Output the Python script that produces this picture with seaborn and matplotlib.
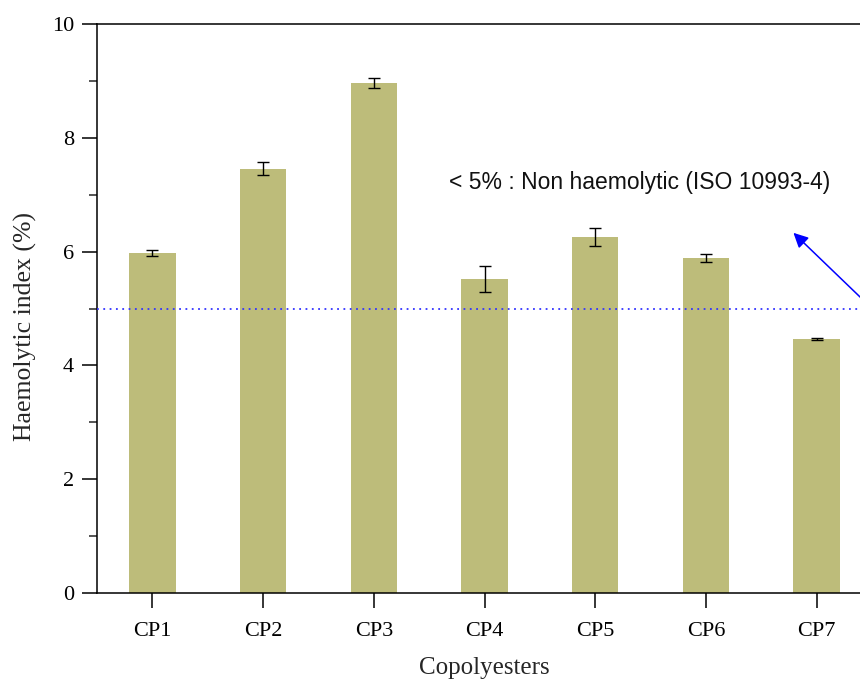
import matplotlib
matplotlib.use("Agg")
import matplotlib.pyplot as plt
from matplotlib.ticker import MultipleLocator
import seaborn as sns
import pandas as pd

# Haemolysis results for the copolyester series
samples = ["CP1", "CP2", "CP3", "CP4", "CP5", "CP6", "CP7"]
haemolytic_index = [5.97, 7.46, 8.96, 5.52, 6.26, 5.89, 4.47]
std_dev = [0.05, 0.12, 0.09, 0.23, 0.16, 0.07, 0.02]
threshold = 5.0
note = "< 5% : Non haemolytic (ISO 10993-4)"

df = pd.DataFrame({"sample": samples, "hi": haemolytic_index, "sd": std_dev})

sns.set_theme(style="ticks")
plt.rcParams["font.family"] = ["Liberation Serif", "DejaVu Serif"]

fig = plt.figure(figsize=(8.6, 6.84), dpi=100)
ax = fig.add_axes([0.1128, 0.1330, 0.9012, 0.8319])

sns.barplot(data=df, x="sample", y="hi", color="#BDBC7A", saturation=1,
            width=0.42, errorbar=None, ax=ax, linewidth=0)
ax.errorbar(range(len(samples)), df["hi"], yerr=df["sd"], fmt="none",
            ecolor="black", elinewidth=1.0, capsize=4.3, capthick=1.0, zorder=5)

ax.axhline(threshold, color="#3333FF", linestyle=(0, (1, 2.5)), linewidth=1.3, zorder=4)

ax.annotate("", xy=(5.79, 6.33), xytext=(6.5, 5.0),
            arrowprops=dict(arrowstyle="-|>", color="blue", lw=1.1,
                            mutation_scale=22, shrinkA=0, shrinkB=0),
            annotation_clip=False, zorder=6)
ax.text(2.68, 7.22, note, fontsize=16.5, va="center", ha="left",
        family=["Liberation Sans", "DejaVu Sans"], color="#111111")

ax.set_xlim(-0.5, 6.5)
ax.set_ylim(0, 10)
ax.yaxis.set_major_locator(MultipleLocator(2))
ax.yaxis.set_minor_locator(MultipleLocator(1))

for side in ["left", "bottom", "top", "right"]:
    ax.spines[side].set_visible(True)
    ax.spines[side].set_linewidth(1.1)
    ax.spines[side].set_color("black")

ax.tick_params(axis="both", which="major", direction="out", length=10.5,
               width=1.1, labelsize=16, colors="black")
ax.tick_params(axis="y", which="major", pad=6)
ax.tick_params(axis="x", which="major", pad=10)
ax.tick_params(axis="y", which="minor", direction="out", length=5.5, width=1.1)
ax.tick_params(axis="x", which="minor", bottom=False)

ax.set_xlabel("Copolyesters", fontsize=18, labelpad=12)
ax.set_ylabel("Haemolytic index (%)", fontsize=18.5, labelpad=12)
ax.yaxis.set_label_coords(-0.078, 0.469)

fig.savefig("out.png", dpi=100)
